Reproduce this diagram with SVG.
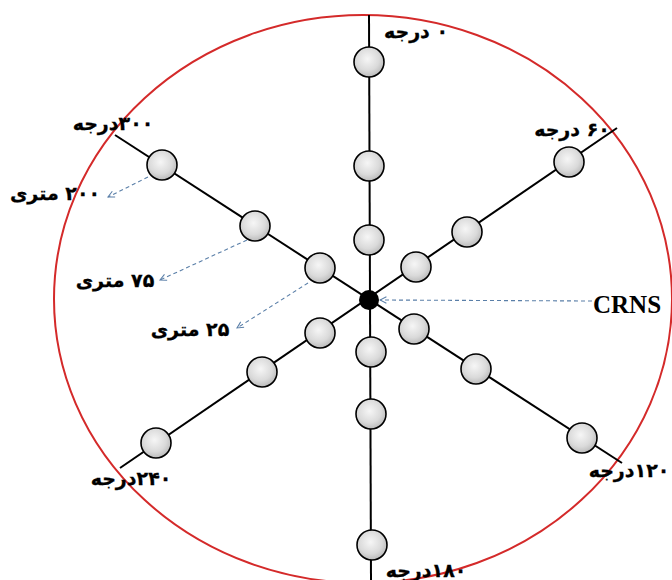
<svg xmlns="http://www.w3.org/2000/svg" width="672" height="580" viewBox="0 0 672 580">
<defs>
<radialGradient id="g" cx="0.45" cy="0.4" r="0.65">
<stop offset="0" stop-color="#f6f6f6"/>
<stop offset="0.6" stop-color="#dadada"/>
<stop offset="1" stop-color="#b4b4b4"/>
</radialGradient>
<marker id="ah" viewBox="0 0 10 10" refX="9" refY="5" markerWidth="8" markerHeight="8" orient="auto" markerUnits="userSpaceOnUse">
<path d="M1,1 L9,5 L1,9" fill="none" stroke="#5a7fa8" stroke-width="1.3"/>
</marker>
</defs>
<style>
.n{fill:url(#g);stroke:#000;stroke-width:1.6}
.ln{stroke:#000;stroke-width:2;fill:none}
.da{stroke:#5a7fa8;stroke-width:1.1;stroke-dasharray:4 3;fill:none}
.fa{font-family:"DejaVu Sans","Noto Sans",sans-serif;font-weight:bold;font-size:19px;fill:#000;text-anchor:middle;stroke:#000;stroke-width:0.3}
.en{font-family:"Liberation Serif","Times New Roman",serif;font-weight:bold;font-size:25px;fill:#000}
</style>
<rect width="672" height="580" fill="#fff"/>
<ellipse cx="363" cy="299" rx="309" ry="284" fill="none" stroke="#d42a2a" stroke-width="2"/>
<g id="connectors">
<line class="ln" x1="369" y1="15" x2="371" y2="580"/>
<line class="ln" x1="115" y1="135" x2="622" y2="463"/>
<line class="ln" x1="617" y1="128" x2="120" y2="468"/>
<line class="da" x1="148" y1="177" x2="108" y2="197" marker-end="url(#ah)"/>
<line class="da" x1="247" y1="240" x2="160" y2="280" marker-end="url(#ah)"/>
<line class="da" x1="308" y1="283" x2="237" y2="328" marker-end="url(#ah)"/>
<line class="da" x1="592" y1="301" x2="380" y2="300" marker-end="url(#ah)"/>
</g>
<g id="n0a"><circle class="n" cx="369" cy="62" r="15"/></g>
<g id="n0b"><circle class="n" cx="369" cy="166" r="15"/></g>
<g id="n0c"><circle class="n" cx="369" cy="240" r="15"/></g>
<g id="n180a"><circle class="n" cx="371" cy="352" r="15"/></g>
<g id="n180b"><circle class="n" cx="371" cy="414" r="15"/></g>
<g id="n180c"><circle class="n" cx="372" cy="545" r="15"/></g>
<g id="n300a"><circle class="n" cx="320" cy="268" r="15"/></g>
<g id="n300b"><circle class="n" cx="255" cy="226" r="15"/></g>
<g id="n300c"><circle class="n" cx="162" cy="165" r="15"/></g>
<g id="n120a"><circle class="n" cx="414" cy="329" r="15"/></g>
<g id="n120b"><circle class="n" cx="476" cy="369" r="15"/></g>
<g id="n120c"><circle class="n" cx="582" cy="438" r="15"/></g>
<g id="n60a"><circle class="n" cx="416" cy="267" r="15"/></g>
<g id="n60b"><circle class="n" cx="467" cy="232" r="15"/></g>
<g id="n60c"><circle class="n" cx="569" cy="162" r="15"/></g>
<g id="n240a"><circle class="n" cx="320" cy="333" r="15"/></g>
<g id="n240b"><circle class="n" cx="262" cy="372" r="15"/></g>
<g id="n240c"><circle class="n" cx="156" cy="443" r="15"/></g>
<g id="crns"><circle cx="369" cy="300" r="10" fill="#000"/></g>
<g id="labels">
<text class="fa" x="416" y="38" direction="rtl">۰ درجه</text>
<text class="fa" x="113" y="130" direction="rtl">۳۰۰درجه</text>
<text class="fa" x="572" y="136" direction="rtl">۶۰ درجه</text>
<text class="fa" x="55" y="200" direction="rtl">۲۰۰ متری</text>
<text class="fa" x="115" y="287" direction="rtl">۷۵ متری</text>
<text class="fa" x="190" y="336" direction="rtl">۲۵ متری</text>
<text class="en" x="593" y="313">CRNS</text>
<text class="fa" x="131" y="485" direction="rtl">۲۴۰درجه</text>
<text class="fa" x="629" y="477" direction="rtl">۱۲۰درجه</text>
<text class="fa" x="426" y="577" direction="rtl">۱۸۰درجه</text>
</g>
</svg>
